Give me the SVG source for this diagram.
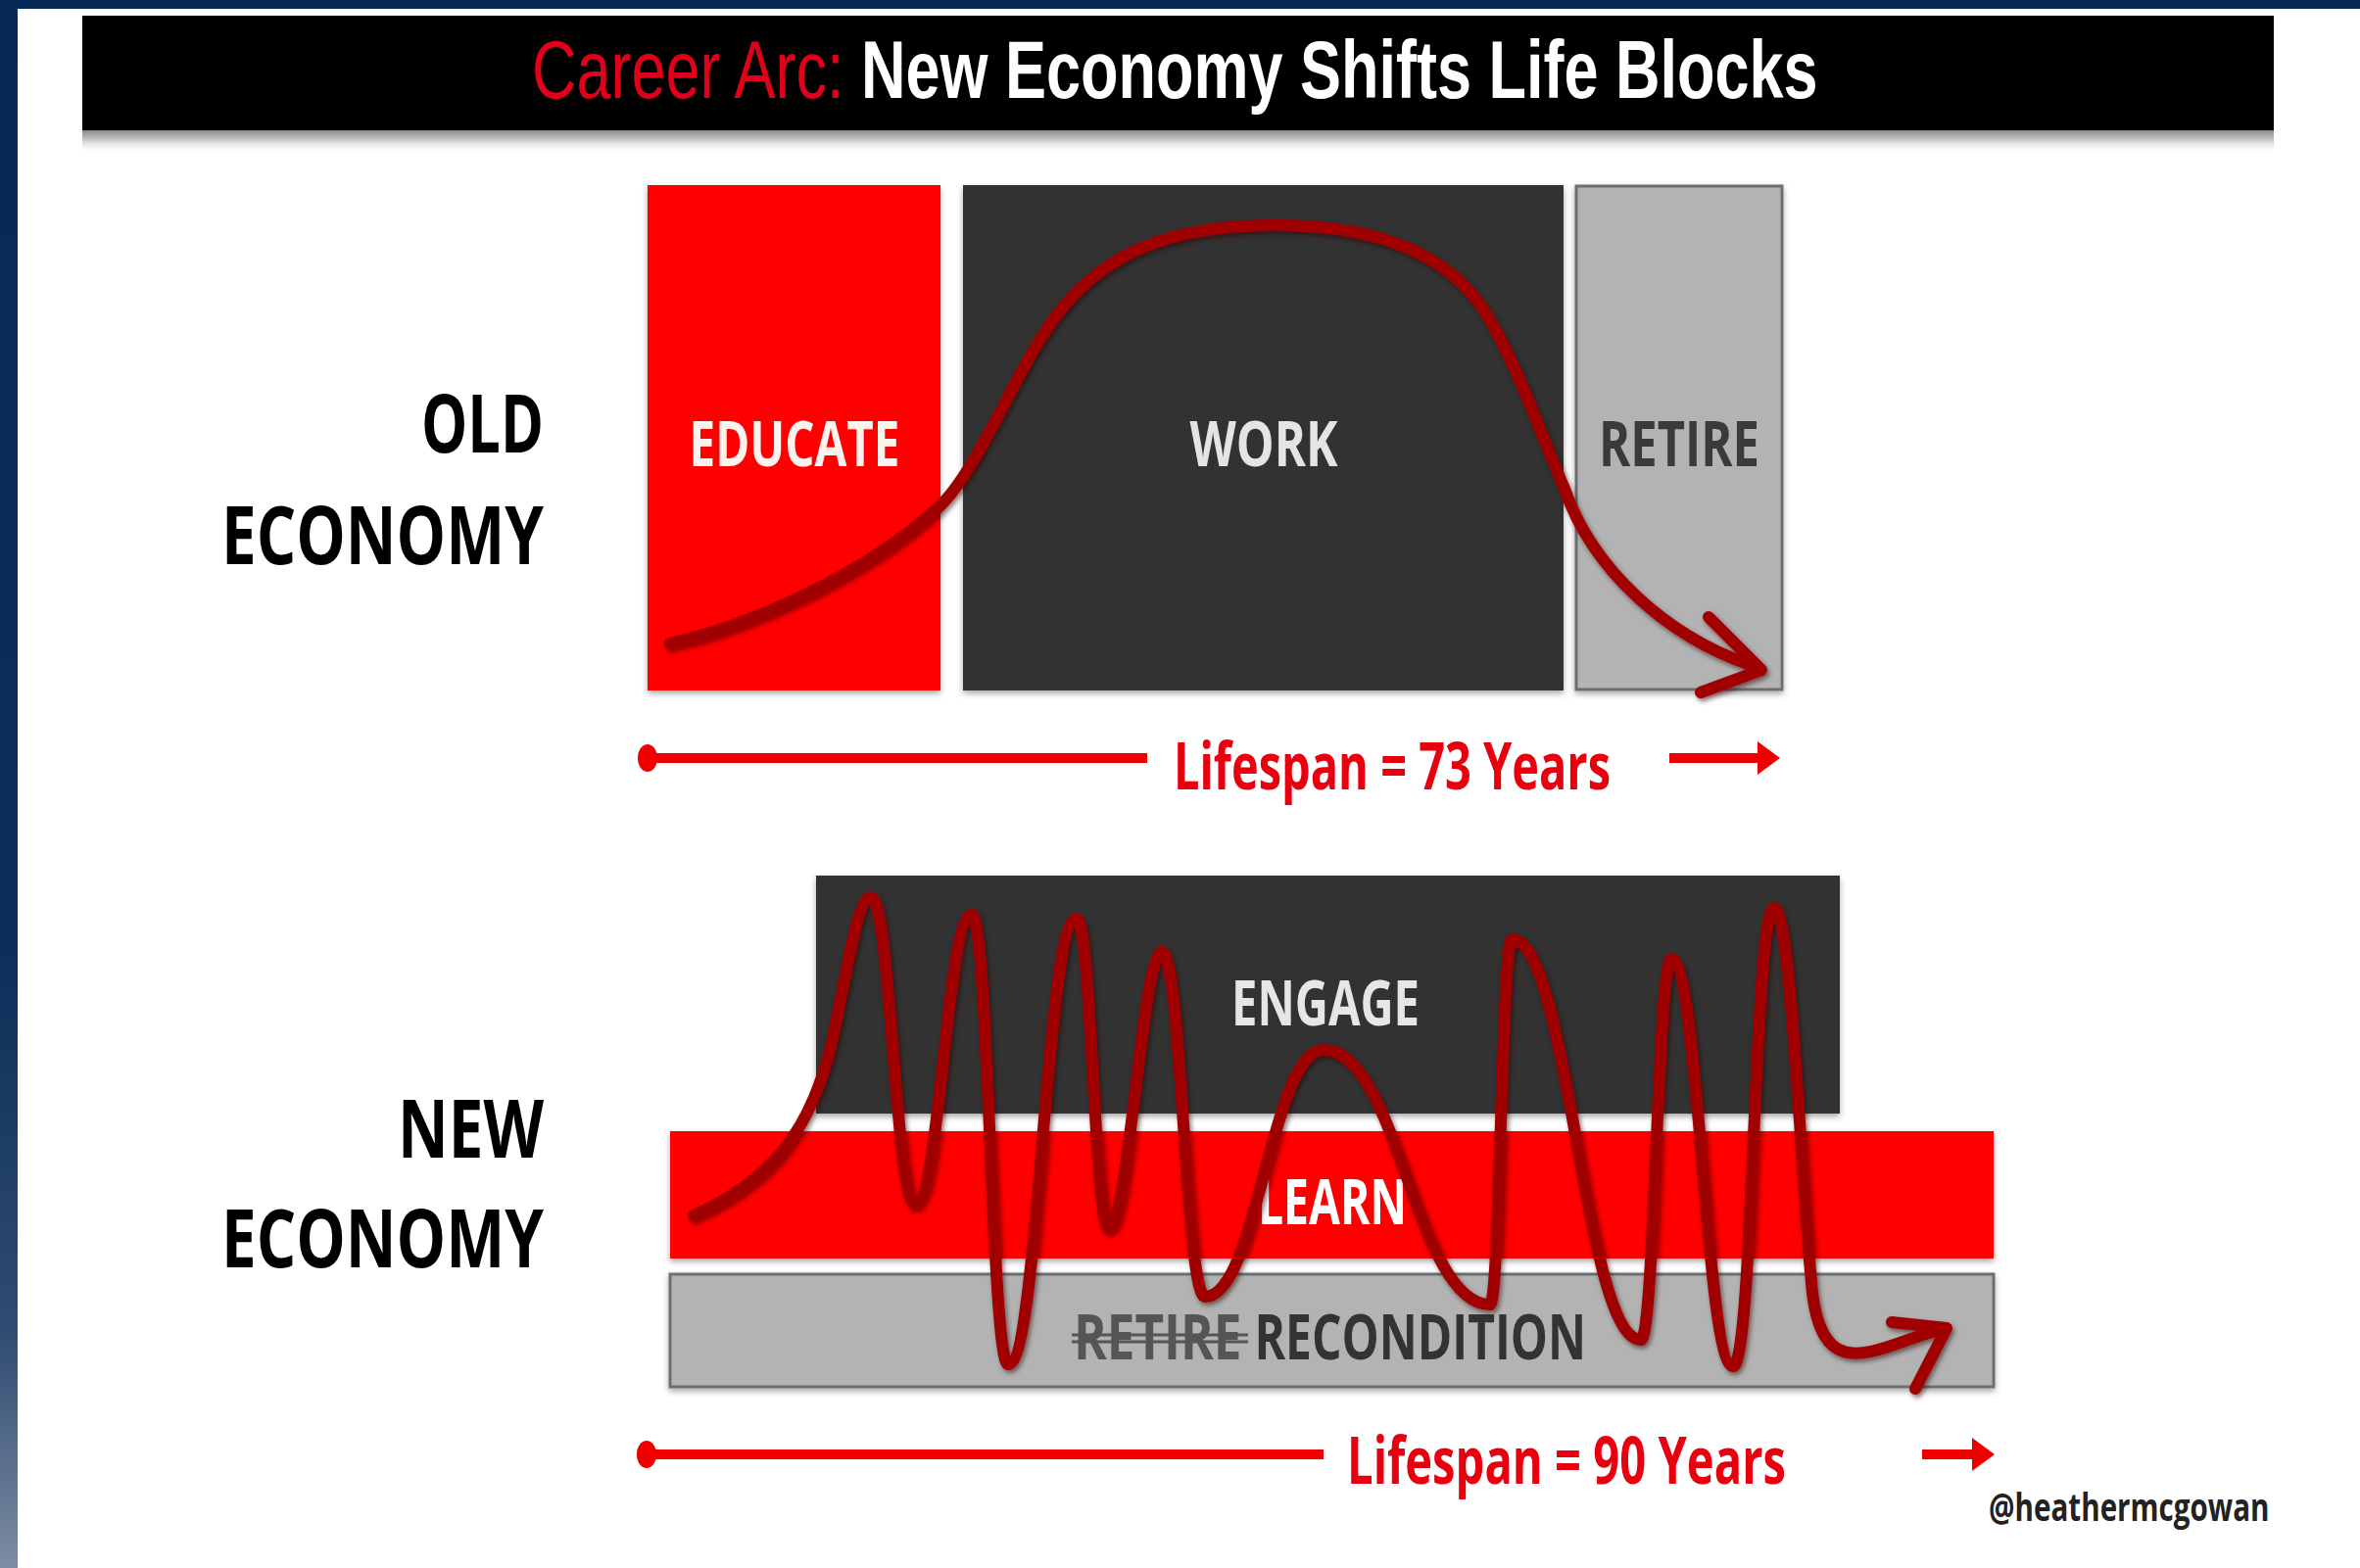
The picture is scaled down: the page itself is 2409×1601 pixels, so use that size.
<svg xmlns="http://www.w3.org/2000/svg" width="2409" height="1601" viewBox="0 0 2409 1601">
  <defs>
    <linearGradient id="sideGrad" x1="0" y1="0" x2="0" y2="1">
      <stop offset="0" stop-color="#062a55"/>
      <stop offset="0.6" stop-color="#0c2d58"/>
      <stop offset="0.85" stop-color="#2f4c72"/>
      <stop offset="1" stop-color="#7d8ca2"/>
    </linearGradient>
    <linearGradient id="barShadow" x1="0" y1="0" x2="0" y2="1">
      <stop offset="0" stop-color="#8a8a8a"/>
      <stop offset="0.5" stop-color="#d8d8d8"/>
      <stop offset="1" stop-color="#ffffff" stop-opacity="0"/>
    </linearGradient>
    <filter id="blockShadow" x="-5%" y="-5%" width="110%" height="115%">
      <feDropShadow dx="0" dy="3" stdDeviation="3" flood-color="#000" flood-opacity="0.35"/>
    </filter>
    <filter id="curveShadow" x="-5%" y="-5%" width="110%" height="110%">
      <feDropShadow dx="2" dy="3" stdDeviation="2.5" flood-color="#300000" flood-opacity="0.55"/>
    </filter>
  </defs>
  <style>
    .red { fill: #ff0000; }
    .dark { fill: #333333; }
    .gray { fill: #b3b3b3; stroke: #6e6e6e; stroke-width: 3; }
    .blk { font-family: "Open Sans", "Liberation Sans", sans-serif; font-weight: 700; }
    .lbl { font-family: "Open Sans", "Liberation Sans", sans-serif; font-weight: 700; font-size: 64px; }
    .life { font-family: "Open Sans", "Liberation Sans", sans-serif; font-weight: 700; font-size: 66px; fill: #e8000e; }
    .title { font-family: "Liberation Sans", Arial, sans-serif; font-size: 84px; }
    .curve { fill: none; stroke: #a00000; stroke-width: 12; stroke-linecap: round; stroke-linejoin: round; }
    .span { stroke: #ee0000; stroke-width: 10; fill: none; }
  </style>

  <rect x="0" y="0" width="2409" height="1601" fill="#ffffff"/>
  <rect x="0" y="0" width="2409" height="9" fill="#062a55"/>
  <rect x="0" y="0" width="18" height="1601" fill="url(#sideGrad)"/>

  <g id="title">
    <rect x="84" y="133" width="2237" height="24" fill="url(#barShadow)"/>
    <rect x="84" y="16" width="2237" height="117" fill="#000000"/>
    <text class="title" transform="translate(543,100) scale(0.75,1)" x="0" y="0"><tspan fill="#e0001a">Career Arc: </tspan><tspan fill="#ffffff" font-weight="700">New Economy Shifts Life Blocks</tspan></text>
  </g>

  <g id="old-economy-label">
    <text class="blk" x="555" y="462" font-size="82" fill="#000" text-anchor="end" textLength="125" lengthAdjust="spacingAndGlyphs">OLD</text>
    <text class="blk" x="555" y="576" font-size="82" fill="#000" text-anchor="end" textLength="329" lengthAdjust="spacingAndGlyphs">ECONOMY</text>
  </g>
  <g id="new-economy-label">
    <text class="blk" x="555" y="1182" font-size="82" fill="#000" text-anchor="end" textLength="149" lengthAdjust="spacingAndGlyphs">NEW</text>
    <text class="blk" x="555" y="1294" font-size="82" fill="#000" text-anchor="end" textLength="329" lengthAdjust="spacingAndGlyphs">ECONOMY</text>
  </g>

  <g id="educate">
    <rect class="red" x="661" y="189" width="299" height="516" filter="url(#blockShadow)"/>
    <text class="lbl" x="811" y="476" fill="#fbf4ee" text-anchor="middle" textLength="215" lengthAdjust="spacingAndGlyphs">EDUCATE</text>
  </g>
  <g id="work">
    <rect class="dark" x="983" y="189" width="613" height="516" filter="url(#blockShadow)"/>
    <text class="lbl" x="1290" y="476" fill="#e4e4e4" text-anchor="middle" textLength="151" lengthAdjust="spacingAndGlyphs">WORK</text>
  </g>
  <g id="retire">
    <rect class="gray" x="1609" y="190" width="210" height="514" filter="url(#blockShadow)"/>
    <text class="lbl" x="1714" y="476" fill="#3a3a3a" text-anchor="middle" textLength="164" lengthAdjust="spacingAndGlyphs">RETIRE</text>
  </g>

  <g id="engage">
    <rect class="dark" x="833" y="894" width="1045" height="243" filter="url(#blockShadow)"/>
    <text class="lbl" x="1353" y="1047" fill="#e6e6e6" text-anchor="middle" textLength="192" lengthAdjust="spacingAndGlyphs">ENGAGE</text>
  </g>
  <g id="learn">
    <rect class="red" x="684" y="1155" width="1351" height="130" filter="url(#blockShadow)"/>
    <text class="lbl" x="1360" y="1250" fill="#ffffff" text-anchor="middle" textLength="152" lengthAdjust="spacingAndGlyphs">LEARN</text>
  </g>
  <g id="recondition">
    <rect class="gray" x="684" y="1301" width="1351" height="115" filter="url(#blockShadow)"/>
    <text class="lbl" transform="translate(1096,1388) scale(0.8,1)" x="0" y="0" fill="#555555">RETIRE</text>
    <line x1="1094" y1="1363" x2="1274" y2="1363" stroke="#555" stroke-width="3"/>
    <line x1="1094" y1="1370" x2="1274" y2="1370" stroke="#555" stroke-width="3"/>
    <text class="lbl" transform="translate(1619,1388) scale(0.75,1)" x="0" y="0" fill="#333333" text-anchor="end">RECONDITION</text>
  </g>

  <g id="connectors">
    <g id="old-career-arc" filter="url(#curveShadow)">
      <path class="curve" d="M684,657 C760,640 880,590 959,517 C1000,478 1040,370 1080,320 C1130,255 1200,230 1300,230 C1400,230 1470,255 1510,310 C1545,360 1575,450 1597,499 C1625,580 1700,650 1790,680"/>
      <path class="curve" d="M1744,630 L1798,684 L1736,707"/>
    </g>
    <g id="new-career-arc" filter="url(#curveShadow)">
      <path class="curve" d="M708,1241 C790,1205 830,1150 850,1060 C865,990 875,916 889,916
        C909,916 914,1229 934,1229
        C960,1229 966,934 992,934
        C1009,934 1012,1393 1029,1393
        C1061,1393 1067,938 1099,938
        C1114,938 1117,1254 1132,1254
        C1152,1254 1166,972 1186,972
        C1206,972 1210,1324 1230,1324
        C1284,1324 1297,1072 1351,1072
        C1428,1072 1444,1332 1521,1332
        C1531,1332 1533,959 1543,959
        C1602,959 1616,1368 1675,1368
        C1689,1368 1692,979 1706,979
        C1734,979 1741,1395 1769,1395
        C1790,1395 1790,927 1811,927
        C1828,927 1838,1200 1850,1320
        C1862,1420 1920,1372 1983,1357"/>
      <path class="curve" d="M1931,1350 L1987,1356 L1955,1418"/>
    </g>
    <g id="lifespan-73">
      <ellipse cx="661" cy="774" rx="10" ry="14" fill="#ee0000"/>
      <line class="span" x1="661" y1="774" x2="1171" y2="774"/>
      <line class="span" x1="1704" y1="774" x2="1796" y2="774"/>
      <polygon points="1794,757 1817,774 1794,791" fill="#ee0000"/>
    </g>
    <g id="lifespan-90">
      <ellipse cx="660" cy="1485" rx="10" ry="14" fill="#ee0000"/>
      <line class="span" x1="660" y1="1485" x2="1351" y2="1485"/>
      <line class="span" x1="1962" y1="1485" x2="2015" y2="1485"/>
      <polygon points="2013,1468 2036,1485 2013,1502" fill="#ee0000"/>
    </g>
  </g>

  <g id="lifespan-labels">
    <text class="life" x="1198" y="806" textLength="446" lengthAdjust="spacingAndGlyphs">Lifespan = 73 Years</text>
    <text class="life" x="1375" y="1515" textLength="448" lengthAdjust="spacingAndGlyphs">Lifespan = 90 Years</text>
  </g>
  <g id="credit">
    <text transform="translate(2030,1553) scale(0.74,1)" x="0" y="0" font-family="'Open Sans', 'Liberation Sans', sans-serif" font-weight="700" font-size="40" fill="#222222">@heathermcgowan</text>
  </g>
</svg>
